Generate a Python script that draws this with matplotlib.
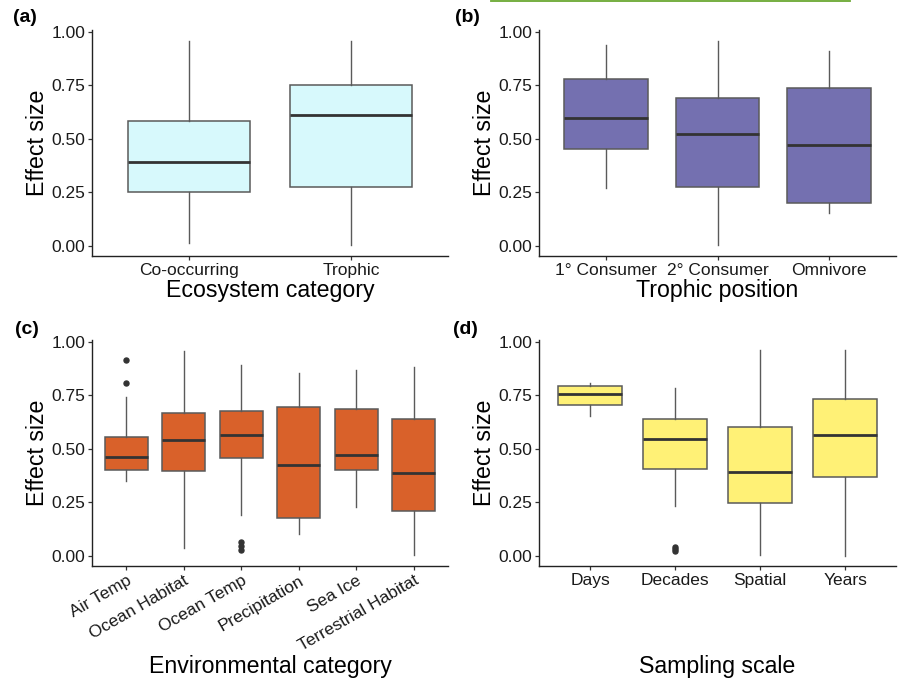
import numpy as np
import matplotlib
matplotlib.use("Agg")
import matplotlib.pyplot as plt
from matplotlib.lines import Line2D

plt.rcParams['font.family'] = ['Liberation Sans', 'DejaVu Sans']

# box statistics: low whisker, Q1, median, Q3, high whisker
eco_cats = ["Co-occurring", "Trophic"]
eco_lo = [0.012, 0.003]
eco_q1 = [0.252, 0.276]
eco_med = [0.389, 0.611]
eco_q3 = [0.581, 0.749]
eco_hi = [0.958, 0.958]
eco_out = [[], []]

tro_cats = ["1° Consumer", "2° Consumer", "Omnivore"]
tro_lo = [0.269, 0.003, 0.151]
tro_q1 = [0.453, 0.274, 0.198]
tro_med = [0.595, 0.523, 0.469]
tro_q3 = [0.777, 0.688, 0.735]
tro_hi = [0.939, 0.958, 0.908]
tro_out = [[], [], []]

env_cats = ["Air Temp", "Ocean Habitat", "Ocean Temp", "Precipitation",
            "Sea Ice", "Terrestrial Habitat"]
env_lo = [0.349, 0.037, 0.191, 0.101, 0.230, 0.003]
env_q1 = [0.402, 0.398, 0.458, 0.177, 0.399, 0.207]
env_med = [0.463, 0.543, 0.562, 0.422, 0.472, 0.387]
env_q3 = [0.556, 0.668, 0.677, 0.694, 0.686, 0.641]
env_hi = [0.742, 0.957, 0.891, 0.854, 0.870, 0.884]
env_out = [[0.913, 0.809], [], [0.065, 0.047, 0.028], [], [], []]

samp_cats = ["Days", "Decades", "Spatial", "Years"]
samp_lo = [0.655, 0.232, 0.003, 0.0]
samp_q1 = [0.705, 0.403, 0.245, 0.367]
samp_med = [0.755, 0.547, 0.389, 0.563]
samp_q3 = [0.793, 0.638, 0.603, 0.732]
samp_hi = [0.809, 0.784, 0.962, 0.962]
samp_out = [[], [0.041, 0.031, 0.022], [], []]

yticks = [0.00, 0.25, 0.50, 0.75, 1.00]


def boxpanel(ax, cats, lo, q1, med, q3, hi, out, fill, xlabel, rot=0):
    stats = []
    for i in range(len(cats)):
        stats.append(dict(whislo=lo[i], q1=q1[i], med=med[i], q3=q3[i],
                          whishi=hi[i], fliers=out[i]))
    n = len(cats)
    ax.bxp(stats, positions=np.arange(1, n + 1), widths=0.75,
           patch_artist=True, showcaps=False,
           boxprops=dict(facecolor=fill, edgecolor="#5a5a5a", linewidth=1.1),
           medianprops=dict(color="#333333", linewidth=2.0),
           whiskerprops=dict(color="#5a5a5a", linewidth=1.0),
           flierprops=dict(marker="o", markersize=3.6, markerfacecolor="#333333",
                           markeredgecolor="#333333"))
    ax.set_xlim(0.4, n + 0.6)
    ax.set_ylim(-0.048, 1.008)
    ax.set_yticks(yticks)
    ax.set_yticklabels([f"{t:.2f}" for t in yticks])
    ax.set_xticks(np.arange(1, n + 1))
    if rot:
        ax.set_xticklabels(cats, rotation=rot, ha="right", rotation_mode="anchor")
    else:
        ax.set_xticklabels(cats)
    for s in ["top", "right"]:
        ax.spines[s].set_visible(False)
    for s in ["left", "bottom"]:
        ax.spines[s].set_color("#222222")
        ax.spines[s].set_linewidth(1.0)
    ax.tick_params(axis="both", length=3, width=0.9, color="#333333",
                   labelsize=12.5, labelcolor="#1a1a1a", pad=2)
    ax.set_ylabel("Effect size", fontsize=16.7, va="center")
    ax.yaxis.set_label_coords(-0.153, 0.5)
    ax.set_xlabel(xlabel, fontsize=16.7, va="center")
    return ax


fig = plt.figure(figsize=(8.99, 6.8), dpi=100)

ax_a = fig.add_axes([0.1023, 0.6235, 0.396, 0.3324])
ax_b = fig.add_axes([0.5996, 0.6235, 0.3971, 0.3324])
ax_c = fig.add_axes([0.1023, 0.1676, 0.396, 0.3324])
ax_d = fig.add_axes([0.5996, 0.1676, 0.3971, 0.3324])

boxpanel(ax_a, eco_cats, eco_lo, eco_q1, eco_med, eco_q3, eco_hi, eco_out,
         "#d7f9fc", "Ecosystem category")
boxpanel(ax_b, tro_cats, tro_lo, tro_q1, tro_med, tro_q3, tro_hi, tro_out,
         "#7470b0", "Trophic position")
boxpanel(ax_c, env_cats, env_lo, env_q1, env_med, env_q3, env_hi, env_out,
         "#d9612a", "Environmental category", rot=30)
boxpanel(ax_d, samp_cats, samp_lo, samp_q1, samp_med, samp_q3, samp_hi, samp_out,
         "#fff176", "Sampling scale")

ax_a.xaxis.set_label_coords(0.5, -0.152)
ax_b.xaxis.set_label_coords(0.5, -0.152)
ax_c.xaxis.set_label_coords(0.5, -0.445)
ax_d.xaxis.set_label_coords(0.5, -0.445)

# panel tags
fig.text(13 / 899, 1 - 17 / 680, "(a)", fontsize=14, fontweight="bold", va="center")
fig.text(455 / 899, 1 - 17 / 680, "(b)", fontsize=14, fontweight="bold", va="center")
fig.text(15 / 899, 1 - 329 / 680, "(c)", fontsize=14, fontweight="bold", va="center")
fig.text(453 / 899, 1 - 329 / 680, "(d)", fontsize=14, fontweight="bold", va="center")

# thin green rule at the top edge above panel (b)
fig.add_artist(Line2D([491 / 899, 850 / 899], [1 - 0.8 / 680, 1 - 0.8 / 680],
                      color="#6aa832", linewidth=1.3, transform=fig.transFigure))

fig.savefig("out.png", dpi=100)
